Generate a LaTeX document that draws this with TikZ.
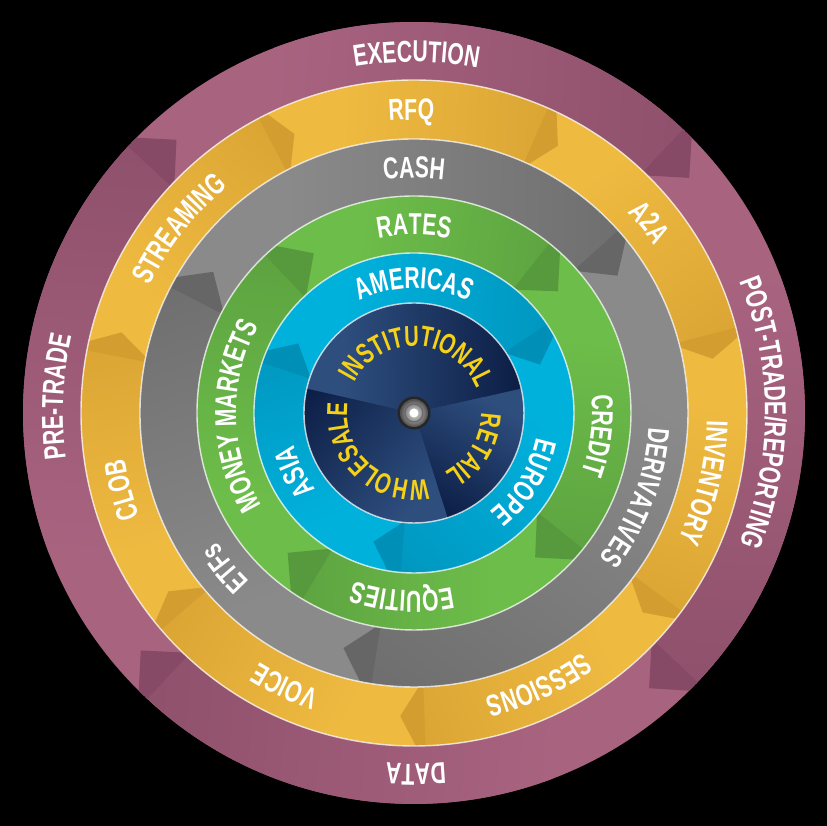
\documentclass[tikz,border=0pt]{standalone}
\usepackage{fontspec}
\newfontfamily\labelfont{Liberation Sans}[FakeStretch=0.7]
\usetikzlibrary{decorations.text}
\definecolor{magL}{HTML}{A8637F}
\definecolor{magD}{HTML}{864A66}
\definecolor{yelL}{HTML}{EFBA40}
\definecolor{yelD}{HTML}{D39D30}
\definecolor{gryL}{HTML}{8A8A8A}
\definecolor{gryD}{HTML}{666666}
\definecolor{grnL}{HTML}{6DBD4A}
\definecolor{grnD}{HTML}{579A3D}
\definecolor{bluL}{HTML}{00B1DC}
\definecolor{bluD}{HTML}{008FB7}
\definecolor{navL}{HTML}{2E4E7E}
\definecolor{navD}{HTML}{0A1B42}
\definecolor{hubyellow}{HTML}{F5D117}
\newcommand{\labeltext}{\labelfont\bfseries\fontsize{8.6}{10}\selectfont}
\newcommand{\hubtext}{\labelfont\bfseries\fontsize{8.2}{10}\selectfont}
\newcommand{\arrowring}[7]{%
  \pgfmathsetmacro\rMid{(#1+#2)/2}%
  \pgfmathsetmacro\halfW{(#2-#1)/2}%
  \pgfmathsetmacro\dOut{deg(#5*\halfW/#2)}%
  \pgfmathsetmacro\dIn{deg(#5*\halfW/#1)}%
  \pgfmathsetmacro\dMax{\dIn+1}%
  \foreach \tb [remember=\tb as \ta (initially #6)] in {#7}{
    \pgfmathsetmacro\angA{\ta+\dIn+0.4}
    \pgfmathsetmacro\angB{\tb+\dMax-0.4}
    \pgfmathsetmacro\turn{(\ta+\tb)/2-90}
    \pgfmathsetmacro\half{\rMid*sin((\ta-\tb)/2)}
    \begin{scope}
      \clip (\angA:#2) arc[start angle=\angA,end angle=\angB,radius=#2]
        -- (\angB:#1) arc[start angle=\angB,end angle=\angA,radius=#1] -- cycle;
      \fill[#3] (-4.2,-4.2) rectangle (4.2,4.2);
      \begin{scope}[transform canvas={rotate=\turn}]
        \shade[left color=#3,right color=#4] ({-0.65*\half},-4.2) rectangle ({1.55*\half},4.2);
      \end{scope}
    \end{scope}
  }
  \foreach \tb in {#7}{
    \pgfmathsetmacro\angA{\tb+\dMax}
    \pgfmathsetmacro\angO{\tb+\dOut}
    \pgfmathsetmacro\angI{\tb+\dIn}
    \fill[#4] (\angA:#2) arc[start angle=\angA,end angle=\angO,radius=#2] -- (\tb:\rMid)
      -- (\angI:#1) arc[start angle=\angI,end angle=\angA,radius=#1] -- cycle;
  }%
}
\newcommand{\arclabel}[4]{%
  \pgfmathsetmacro\angA{#3+70}\pgfmathsetmacro\angB{#3-70}%
  \path[#1={#4}] (\angA:#2) arc[start angle=\angA,end angle=\angB,radius=#2];%
}
\begin{document}
\begin{tikzpicture}[ringlabel/.style={decorate,decoration={text along path,text align=center,text color=white,text={|\labeltext|#1}}},
  hublabel/.style={decorate,decoration={text along path,text align=center,text color=hubyellow,text={|\hubtext|#1}}},
  seam/.style={draw=white,line width=0.4pt,opacity=0.75}]
\useasboundingbox (-4.14,-4.13) rectangle (4.13,4.13);
\fill[black] (-4.14,-4.13) rectangle (4.13,4.13);
\arrowring{3.33}{3.91}{magL}{magD}{1}{221}{131,40.5,-49.5,-139}
\arrowring{2.74}{3.33}{yelL}{yelD}{0.58}{216}{164.6,113.2,61.7,10.3,-41.1,-92.6,-144}
\arrowring{2.17}{2.74}{gryL}{gryD}{0.9}{253.3}{144.9,34,-106.7}
\arrowring{1.60}{2.17}{grnL}{grnD}{1}{227.9}{122.1,40.2,-50,-132.1}
\arrowring{1.10}{1.60}{bluL}{bluD}{0.9}{252.5}{149,21,-107.5}
\foreach \tb [remember=\tb as \ta (initially 167.6)] in {12.8,-72.2,-192.4}{
  \pgfmathsetmacro\angB{\tb-0.4}
  \pgfmathsetmacro\turn{(\ta+\tb)/2-90}
  \pgfmathsetmacro\half{0.8*sin((\ta-\tb)/2)}
  \begin{scope}
    \clip (0,0) -- (\ta:1.10) arc[start angle=\ta,end angle=\angB,radius=1.10] -- cycle;
    \fill[navL] (-1.2,-1.2) rectangle (1.2,1.2);
    \begin{scope}[transform canvas={rotate=\turn}]
      \shade[left color=navL,right color=navD] ({-0.9*\half},-1.2) rectangle ({1.5*\half},1.2);
    \end{scope}
  \end{scope}
}
\foreach \r in {3.33,2.74,2.17,1.60,1.10} \draw[seam] (0,0) circle (\r);
\fill[black!85] (0,0) circle (0.165);
\shade[inner color=gray!20,outer color=black!70] (0,0) circle (0.14);
\draw[black!60,line width=0.3pt] (0,0) circle (0.09);
\fill[white] (0,0) circle (0.045);
\arclabel{ringlabel}{3.51}{89.6}{EXECUTION}
\arclabel{ringlabel}{3.51}{0}{POST-TRADE/REPORTING}
\arclabel{ringlabel}{3.51}{270.3}{DATA}
\arclabel{ringlabel}{3.51}{177.4}{PRE-TRADE}
\arclabel{ringlabel}{2.93}{90.5}{RFQ}
\arclabel{ringlabel}{2.93}{39}{A2A}
\arclabel{ringlabel}{2.93}{-13.5}{INVENTORY}
\arclabel{ringlabel}{2.93}{-65.4}{SESSIONS}
\arclabel{ringlabel}{2.93}{244.7}{VOICE}
\arclabel{ringlabel}{2.93}{194.8}{CLOB}
\arclabel{ringlabel}{2.93}{141.9}{STREAMING}
\arclabel{ringlabel}{2.35}{90}{CASH}
\arclabel{ringlabel}{2.35}{-20.7}{DERIVATIVES}
\arclabel{ringlabel}{2.35}{219.4}{ETFs}
\arclabel{ringlabel}{1.78}{90}{RATES}
\arclabel{ringlabel}{1.78}{-7}{CREDIT}
\arclabel{ringlabel}{1.78}{266.3}{EQUITIES}
\arclabel{ringlabel}{1.78}{181}{MONEY MARKETS}
\arclabel{ringlabel}{1.245}{90}{AMERICAS}
\arclabel{ringlabel}{1.245}{-31.8}{EUROPE}
\arclabel{ringlabel}{1.245}{206.3}{ASIA}
\arclabel{hublabel}{0.67}{87}{INSTITUTIONAL}
\arclabel{hublabel}{0.67}{-31}{RETAIL}
\arclabel{hublabel}{0.67}{227}{WHOLESALE}
\end{tikzpicture}
\end{document}
